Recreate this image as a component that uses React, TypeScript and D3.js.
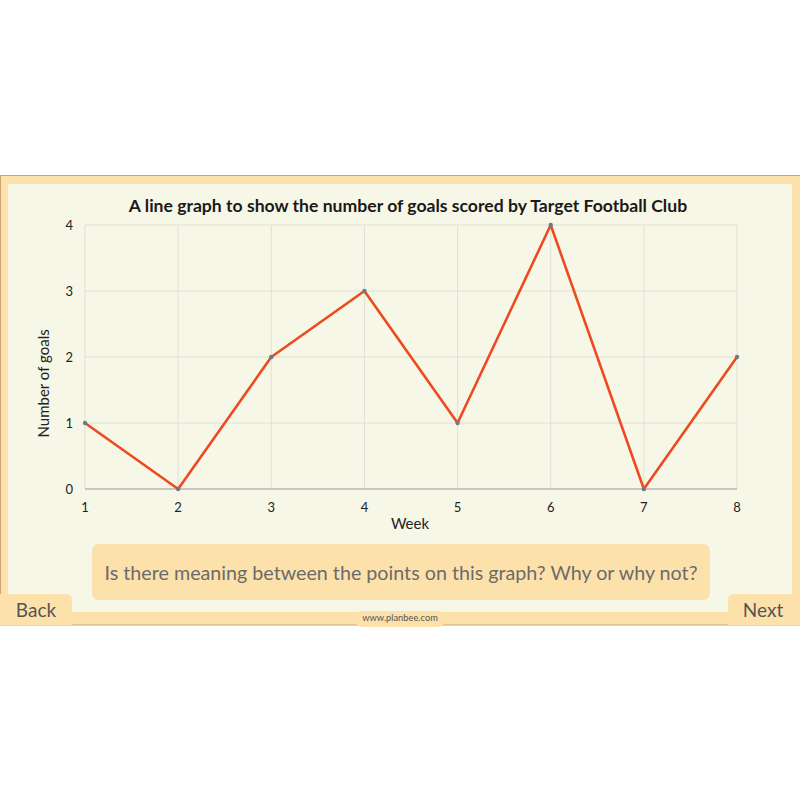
import React from "react";
import * as d3 from "d3";

const weeks = [1, 2, 3, 4, 5, 6, 7, 8];
const goals = [1, 0, 2, 3, 1, 4, 0, 2];
const yTicks = [0, 1, 2, 3, 4];

const title = "A line graph to show the number of goals scored by Target Football Club";
const question = "Is there meaning between the points on this graph? Why or why not?";

const FONT = "Lato, 'Open Sans', sans-serif";
const cream = "#F6F7E6";
const orange = "#FDE1AB";

const App = () => {
  const x = d3.scaleLinear().domain([1, 8]).range([85, 737]);
  const y = d3.scaleLinear().domain([0, 4]).range([489, 225]);

  const pts = weeks.map((w, i) => [w, goals[i]] as [number, number]);
  const line = d3
    .line<[number, number]>()
    .x((d) => x(d[0]))
    .y((d) => y(d[1]));

  return (
    <svg
      width={800}
      height={800}
      style={{ position: "absolute", left: 0, top: 0, display: "block" }}
      fontFamily={FONT}
    >
      <rect width={800} height={800} fill="#fff" />

      {/* slide frame */}
      <rect x={0.5} y={175.5} width={800} height={449.5} fill={orange} stroke="#C9A575" strokeWidth={1} />
      <rect x={8} y={184} width={784} height={428} fill={cream} />

      {/* chart */}
      <text x={408} y={212} textAnchor="middle" fontSize={17.6} fontWeight="bold" fill="#1a1a1a">
        {title}
      </text>

      <g>
        {yTicks.slice(1).map((t) => (
          <line key={"h" + t} x1={x(1)} x2={x(8)} y1={y(t)} y2={y(t)} stroke="#E0E1D6" strokeWidth={1} />
        ))}
        {weeks.map((w) => (
          <line key={"v" + w} x1={x(w)} x2={x(w)} y1={y(4)} y2={y(0)} stroke="#E0E1D6" strokeWidth={1} />
        ))}
        <line x1={x(1)} x2={x(8)} y1={y(0)} y2={y(0)} stroke="#B8B8B0" strokeWidth={1.5} />
      </g>

      {yTicks.map((t) => (
        <text key={"yl" + t} x={73} y={y(t) + 4.5} textAnchor="end" fontSize={13} fill="#222">
          {t}
        </text>
      ))}
      {weeks.map((w) => (
        <text key={"xl" + w} x={x(w)} y={512} textAnchor="middle" fontSize={13} fill="#222">
          {w}
        </text>
      ))}

      <text x={410} y={529} textAnchor="middle" fontSize={15} fill="#222">
        Week
      </text>
      <text
        transform={`translate(49, ${y(1.6)}) rotate(-90)`}
        textAnchor="middle"
        fontSize={15}
        fill="#222"
      >
        Number of goals
      </text>

      <path d={line(pts) || ""} fill="none" stroke="#EE4A22" strokeWidth={2.6} strokeLinejoin="round" />
      {pts.map((d, i) => (
        <circle key={"p" + i} cx={x(d[0])} cy={y(d[1])} r={2.2} fill="#6D7B88" />
      ))}

      {/* question box */}
      <rect x={92} y={544} width={618} height={56} rx={7} fill={orange} />
      <text x={401} y={580} textAnchor="middle" fontSize={19.7} fill="#6B6B6B">
        {question}
      </text>

      {/* nav tabs */}
      <path d="M0,594 H66 Q72,594 72,600 V625 H0 Z" fill={orange} />
      <text x={36} y={617} textAnchor="middle" fontSize={19} fill="#555">
        Back
      </text>
      <path d="M800,594 H734 Q728,594 728,600 V625 H800 Z" fill={orange} />
      <text x={763} y={617} textAnchor="middle" fontSize={19} fill="#555">
        Next
      </text>

      <rect x={355} y={611} width={90} height={16} rx={7} fill={orange} />
      <text x={400} y={621} textAnchor="middle" fontSize={9.3} fill="#555">
        www.planbee.com
      </text>
    </svg>
  );
};

export default App;
